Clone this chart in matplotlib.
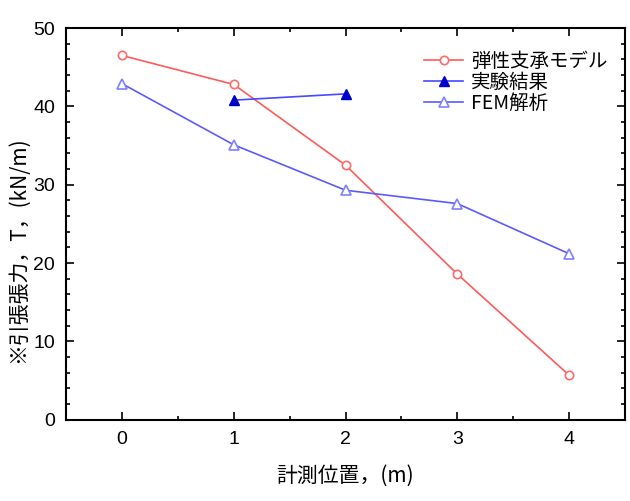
import matplotlib
matplotlib.use("Agg")
import matplotlib.pyplot as plt
from matplotlib.ticker import MultipleLocator

plt.rcParams['font.family'] = ['Noto Sans CJK JP', 'DejaVu Sans']

pos = [0, 1, 2, 3, 4]
spring_model = [46.5, 42.8, 32.5, 18.6, 5.7]
exp_pos = [1, 2]
experiment = [40.8, 41.6]
fem = [42.9, 35.1, 29.3, 27.6, 21.2]

fig = plt.figure(figsize=(6.3, 5.01), dpi=100)
ax = fig.add_axes([0.105, 0.162, 0.887, 0.782])

ax.plot(pos, spring_model, color='#ff5a5a', lw=1.2, marker='o', ms=6,
        mfc='white', mec='#ff6a6a', mew=1.2, label='弾性支承モデル')
ax.plot(exp_pos, experiment, color='#4848ff', lw=1.2, marker='^', ms=7,
        mfc='#0000cc', mec='#0000cc', label='実験結果')
ax.plot(pos, fem, color='#5a5aff', lw=1.2, marker='^', ms=7,
        mfc='white', mec='#7f7fff', mew=1.2, label='FEM解析')

ax.set_xlim(-0.5, 4.5)
ax.set_ylim(0, 50)
ax.xaxis.set_major_locator(MultipleLocator(1))
ax.xaxis.set_minor_locator(MultipleLocator(0.5))
ax.yaxis.set_major_locator(MultipleLocator(10))
ax.yaxis.set_minor_locator(MultipleLocator(2))
ax.tick_params(which='both', direction='in', top=True, right=True, width=1.2)
ax.tick_params(which='major', length=6, labelsize=14, pad=8)
ax.tick_params(which='minor', length=3)
for lab in ax.get_xticklabels() + ax.get_yticklabels():
    lab.set_family(['Liberation Sans', 'DejaVu Sans'])
for s in ax.spines.values():
    s.set_linewidth(1.5)

ax.set_xlabel('計測位置，(m)', fontsize=15)
ax.xaxis.set_label_coords(0.5, -0.115)
ax.set_ylabel('※引張張力，T，(kN/m)', fontsize=15)
ax.yaxis.set_label_coords(-0.066, 0.435)

ax.legend(loc='upper right', frameon=False, fontsize=14, handlelength=2.0,
          handletextpad=0.4, labelspacing=0.0, bbox_to_anchor=(1.0, 0.987))

fig.savefig('out.png', dpi=100)
